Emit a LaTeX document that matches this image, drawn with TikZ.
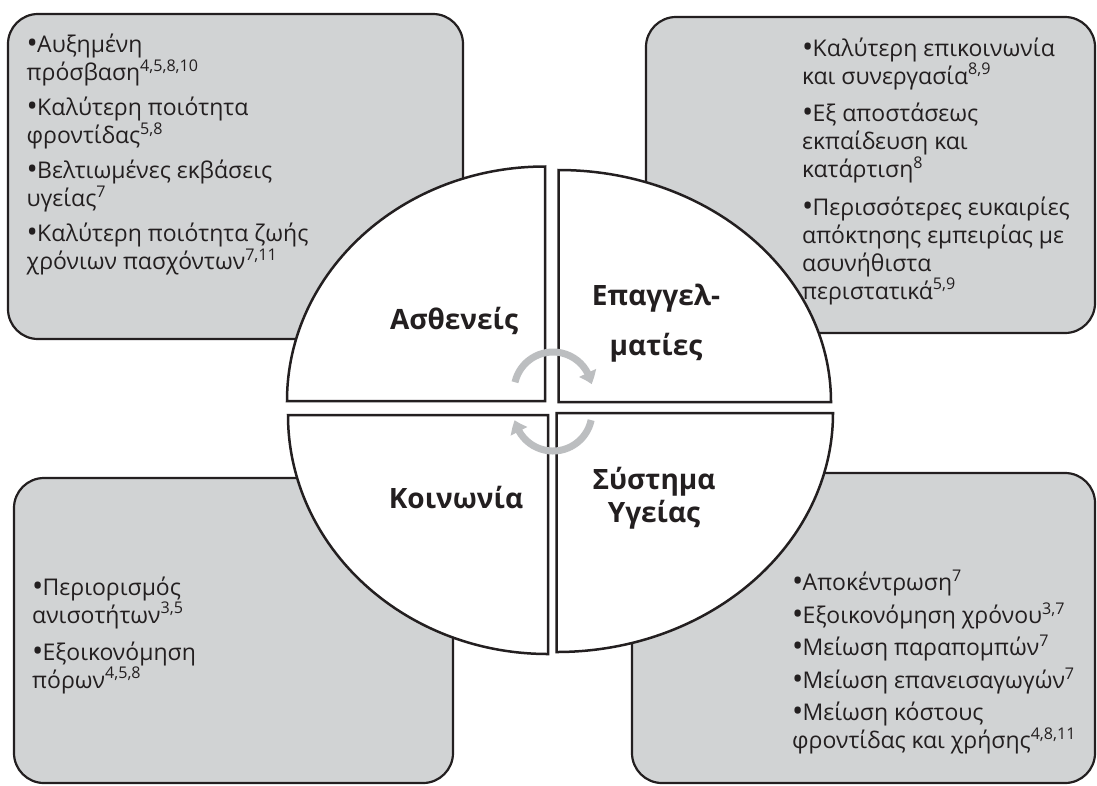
\documentclass[tikz,border=0pt]{standalone}
\usepackage{fontspec}
\setmainfont{Open Sans}
\usetikzlibrary{arrows.meta,bending}
\definecolor{ink}{HTML}{231F20}
\definecolor{boxfill}{HTML}{D1D3D4}
\definecolor{arrowgray}{HTML}{BCBEC0}
\newcommand\bitem{\par\noindent\hangindent=10.5pt\hangafter=1\makebox[10.5pt][l]{\raisebox{-1pt}{\scalebox{1.3}{•}}}}
\begin{document}
\begin{tikzpicture}[x=1pt,y=-1pt,
  infobox/.style={draw=ink, line width=2.2pt, fill=boxfill, rounded corners=30pt, inner sep=0pt},
  quad/.style={draw=ink, line width=2.5pt, fill=white, line join=miter},
  cyc/.style={draw=arrowgray, line width=7pt, -{Triangle[width=18pt,length=12pt,bend]}},
  lbl/.style={anchor=base, inner sep=0pt, font=\fontsize{28}{32}\selectfont\bfseries, text=ink},
  txt/.style={anchor=base west, inner sep=0pt, text=ink}]
\useasboundingbox (0,0) rectangle (1097,785);
\fill[white] (0,0) rectangle (1097,785);
% corner boxes
\node[infobox, minimum width=455pt, minimum height=325pt] (boxTL) at (235.5,176.5) {};
\node[infobox, minimum width=449pt, minimum height=316pt] (boxTR) at (870.5,175) {};
\node[infobox, minimum width=439pt, minimum height=305pt] (boxBL) at (233.5,630.5) {};
\node[infobox, minimum width=463pt, minimum height=310pt] (boxBR) at (863.5,628) {};
% quadrants
\draw[quad] (545,401) -- (287,401) arc[start angle=180, end angle=270, x radius=258, y radius=234.5] -- cycle;
\draw[quad] (558.5,402) -- (558.5,170) arc[start angle=270, end angle=360, x radius=272.5, y radius=232] -- cycle;
\draw[quad] (548,415) -- (288,415) arc[start angle=180, end angle=90, x radius=260, y radius=239] -- cycle;
\draw[quad] (556.5,413) -- (833,413) arc[start angle=0, end angle=90, x radius=276.5, y radius=239] -- cycle;
% cycle arrows
\coordinate (cu) at (553,391);
\coordinate (cl) at (553,412);
\draw[cyc] ([shift={(193:39)}]cu) arc[start angle=193, end angle=350, radius=39];
\draw[cyc] ([shift={(12:39)}]cl) arc[start angle=12, end angle=168, radius=39];
% quadrant labels
\node[lbl] (asth) at (454,329) {Ασθενείς};
\node[lbl] (epag) at (656,305) {\parbox[t]{200pt}{\centering\baselineskip=50pt Επαγγελ-\\ματίες}};
\node[lbl] (koin) at (456,508) {Κοινωνία};
\node[lbl] (syst) at (654,489) {\parbox[t]{200pt}{\centering\baselineskip=33pt Σύστημα\\Υγείας}};
% box texts
\node[txt] (tTL) at (26.5,52.7) {\parbox[t]{430pt}{\raggedright\fontsize{23}{28}\selectfont\parskip=7pt
\bitem Αυξημένη\\πρόσβαση\textsuperscript{4,5,8,10}
\bitem Καλύτερη ποιότητα\\φροντίδας\textsuperscript{5,8}
\bitem Βελτιωμένες εκβάσεις\\υγείας\textsuperscript{7}
\bitem Καλύτερη ποιότητα ζωής\\χρόνιων πασχόντων\textsuperscript{7,11}}};
\node[txt] (tTR) at (802,56) {\parbox[t]{290pt}{\raggedright\fontsize{23}{28}\selectfont\parskip=9.5pt
\bitem Καλύτερη επικοινωνία\\και συνεργασία\textsuperscript{8,9}
\bitem Εξ αποστάσεως\\εκπαίδευση και\\κατάρτιση\textsuperscript{8}
\bitem Περισσότερες ευκαιρίες\\απόκτησης εμπειρίας με\\ασυνήθιστα\\περιστατικά\textsuperscript{5,9}}};
\node[txt] (tBL) at (32,595) {\parbox[t]{300pt}{\raggedright\fontsize{23}{28}\selectfont\parskip=9pt
\bitem Περιορισμός\\ανισοτήτων\textsuperscript{3,5}
\bitem Εξοικονόμηση\\πόρων\textsuperscript{4,5,8}}};
\node[txt] (tBR) at (792,590.7) {\parbox[t]{295pt}{\raggedright\fontsize{23}{28}\selectfont\parskip=4.5pt
\bitem Αποκέντρωση\textsuperscript{7}
\bitem Εξοικονόμηση χρόνου\textsuperscript{3,7}
\bitem Μείωση παραπομπών\textsuperscript{7}
\bitem Μείωση επανεισαγωγών\textsuperscript{7}
\bitem Μείωση κόστους\\φροντίδας και χρήσης\textsuperscript{4,8,11}}};
\end{tikzpicture}
\end{document}
